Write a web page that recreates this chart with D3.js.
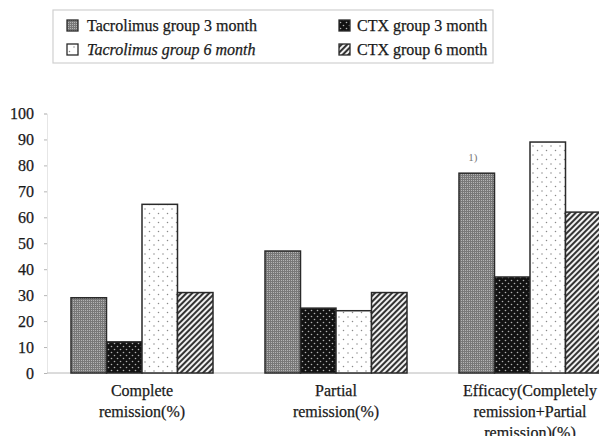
<!DOCTYPE html>
<html>
<head>
<meta charset="utf-8">
<script src="https://cdnjs.cloudflare.com/ajax/libs/d3/7.8.5/d3.min.js"></script>
<style>
  html, body { margin: 0; padding: 0; background: #fff; }
  svg { display: block; }
  text { font-family: "Liberation Serif", "DejaVu Serif", "Times New Roman", serif; fill: #1a1a1a; stroke: #1a1a1a; stroke-width: 0.25px; }
</style>
</head>
<body>
<svg id="chart" width="599" height="436"></svg>
<script>
// ---- data ----
const categories = [
  ["Complete", "remission(%)"],
  ["Partial", "remission(%)"],
  ["Efficacy(Completely", "remission+Partial", "remission)(%)"]
];
const seriesNames = ["Tacrolimus group 3 month", "CTX group 3 month", "Tacrolimus group 6 month", "CTX group 6 month"];
const tacrolimus3 = [29, 47, 77];
const ctx3 = [12, 25, 37];
const tacrolimus6 = [65, 24, 89];
const ctx6 = [31, 31, 62];
const yTicks = [0, 10, 20, 30, 40, 50, 60, 70, 80, 90, 100];
const annotation = { group: 2, series: 0, text: "1)" };

const seriesValues = [tacrolimus3, ctx3, tacrolimus6, ctx6];
const patternIds = ["pTac3", "pCtx3", "pTac6", "pCtx6"];

const svg = d3.select("#chart");
const defs = svg.append("defs");

// gray stipple
let p = defs.append("pattern").attr("id", "pTac3").attr("patternUnits", "userSpaceOnUse")
  .attr("width", 2).attr("height", 2);
p.append("rect").attr("width", 2).attr("height", 2).attr("fill", "#787878");
p.append("rect").attr("width", 1).attr("height", 1).attr("fill", "#b4b4b4");

// black with white dots
p = defs.append("pattern").attr("id", "pCtx3").attr("patternUnits", "userSpaceOnUse")
  .attr("width", 6).attr("height", 6);
p.append("rect").attr("width", 6).attr("height", 6).attr("fill", "#121212");
p.append("circle").attr("cx", 1.5).attr("cy", 1.5).attr("r", 0.8).attr("fill", "#b0b0b0");
p.append("circle").attr("cx", 4.5).attr("cy", 4.5).attr("r", 0.8).attr("fill", "#b0b0b0");

// white with sparse gray dots
p = defs.append("pattern").attr("id", "pTac6").attr("patternUnits", "userSpaceOnUse")
  .attr("width", 9).attr("height", 9);
p.append("rect").attr("width", 9).attr("height", 9).attr("fill", "#fff");
p.append("circle").attr("cx", 2).attr("cy", 2).attr("r", 0.75).attr("fill", "#8a8a8a");
p.append("circle").attr("cx", 6.5).attr("cy", 6.5).attr("r", 0.75).attr("fill", "#8a8a8a");

// diagonal hatch
p = defs.append("pattern").attr("id", "pCtx6").attr("patternUnits", "userSpaceOnUse")
  .attr("width", 4).attr("height", 4).attr("patternTransform", "rotate(45)");
p.append("rect").attr("width", 4).attr("height", 4).attr("fill", "#f0f0f0");
p.append("line").attr("x1", 1).attr("y1", 0).attr("x2", 1).attr("y2", 4)
  .attr("stroke", "#1e1e1e").attr("stroke-width", 1.8);

// ---- scales ----
const y = d3.scaleLinear().domain([0, 100]).range([373, 113.5]);
const x0 = d3.scaleBand().domain(d3.range(categories.length))
  .range([45, 627]).paddingInner(0.268).paddingOuter(0.134);
const x1 = d3.scaleBand().domain(d3.range(seriesNames.length))
  .range([0, x0.bandwidth()]).padding(0);

// ---- axes ----
const yAxis = d3.axisLeft(y).tickValues(yTicks).tickSize(3).tickPadding(10);
const gy = svg.append("g").attr("transform", "translate(47,0)").call(yAxis);
gy.select(".domain").attr("stroke", "#e6e6e6");
gy.selectAll(".tick line").attr("stroke", "#b5b5b5");
gy.selectAll(".tick text").attr("font-size", 16);

svg.append("line").attr("x1", 47).attr("x2", 599).attr("y1", y(0)).attr("y2", y(0))
  .attr("stroke", "#b8b8b8").attr("stroke-width", 1);

// ---- bars ----
const groups = svg.append("g").selectAll("g").data(categories).join("g")
  .attr("transform", (d, i) => `translate(${x0(i)},0)`);
groups.selectAll("rect").data((d, i) => seriesValues.map((s, j) => ({ j, v: s[i] })))
  .join("rect")
  .attr("x", d => x1(d.j))
  .attr("y", d => y(d.v))
  .attr("width", x1.bandwidth())
  .attr("height", d => y(0) - y(d.v))
  .attr("fill", d => `url(#${patternIds[d.j]})`)
  .attr("stroke", "#2a2a2a").attr("stroke-width", 1.5);

// annotation
svg.append("text")
  .attr("x", x0(annotation.group) + x1(annotation.series) + x1.bandwidth() / 2 - 4)
  .attr("y", y(seriesValues[annotation.series][annotation.group]) - 12)
  .attr("text-anchor", "middle").attr("font-size", 11)
  .style("fill", "#777").style("stroke", "none")
  .text(annotation.text);

// ---- category labels ----
categories.forEach((lines, i) => {
  const cx = x0(i) + x0.bandwidth() / 2;
  lines.forEach((t, k) => {
    svg.append("text").attr("x", cx).attr("y", 396 + k * 21)
      .attr("text-anchor", "middle").attr("font-size", 16).text(t);
  });
});

// ---- legend ----
const lg = svg.append("g");
lg.append("rect").attr("x", 53).attr("y", 10).attr("width", 440).attr("height", 53)
  .attr("fill", "none").attr("stroke", "#d0d0d0").attr("stroke-width", 1.2);
const legendPos = [[67, 20], [339, 20], [67, 44], [339, 44]];
const legendOrder = [0, 1, 2, 3];
legendOrder.forEach((j, k) => {
  const [lx, ly] = legendPos[k];
  lg.append("rect").attr("x", lx).attr("y", ly).attr("width", 11).attr("height", 11)
    .attr("fill", `url(#${patternIds[j]})`).attr("stroke", "#2a2a2a").attr("stroke-width", 1.3);
  lg.append("text").attr("x", lx + (j % 2 === 0 ? 20 : 18)).attr("y", ly + 11)
    .attr("font-size", 16)
    .style("font-style", j === 2 ? "italic" : "normal")
    .text(seriesNames[j]);
});
</script>
</body>
</html>
